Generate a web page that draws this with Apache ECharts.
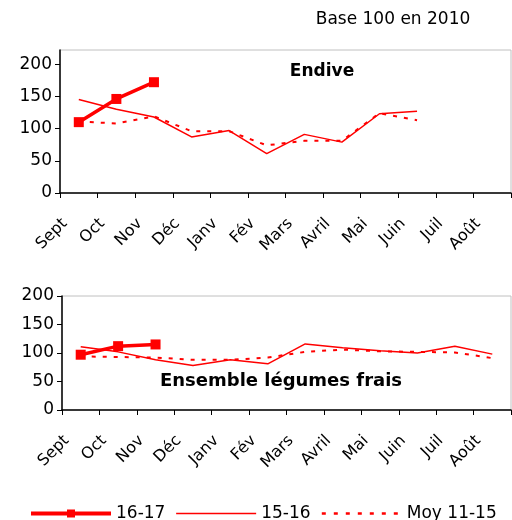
<!DOCTYPE html>
<html>
<head>
<meta charset="utf-8">
<script src="https://cdn.jsdelivr.net/npm/echarts@6/dist/echarts.min.js"></script>
<style>
	html, body { margin: 0; padding: 0; background: #fff; }
	#chart { width: 512px; height: 520px; }
</style>
</head>
<body>
<div id="chart"></div>
<script>
	// mois de la campagne
	var months = ['Sept', 'Oct', 'Nov', 'Déc', 'Janv', 'Fév', 'Mars', 'Avril', 'Mai', 'Juin', 'Juil', 'Août'];
	var yTicks = [0, 50, 100, 150, 200];

	// Endive
	var endive1617 = [110, 146, 172];
	var endive1516 = [145, 130, 118, 87, 97, 61, 91, 79, 123, 127];
	var endiveMoy = [111, 108, 119, 96, 96, 74, 81, 81, 124, 113];

	// Ensemble légumes frais
	var legumes1617 = [97, 112, 115];
	var legumes1516 = [111, 102, 88, 78, 88, 81, 116, 109, 104, 100, 112, 98];
	var legumesMoy = [94, 93, 92, 88, 88, 92, 102, 106, 103, 102, 101, 91];

	var font = 'DejaVu Sans, Verdana, sans-serif';
	var red = '#ff0000';

	function xAxis(idx) {
		return {
			type: 'category',
			gridIndex: idx,
			data: months,
			boundaryGap: true,
			axisLine: { lineStyle: { color: '#000', width: 1.5 } },
			axisTick: { show: true, inside: false, length: 5, interval: 0, lineStyle: { color: '#000' } },
			axisLabel: { rotate: 45, interval: 0, fontSize: 16, color: '#000', fontFamily: font, margin: 14, padding: [0, 20, 0, 0] }
		};
	}
	function yAxis(idx, max) {
		return {
			type: 'value',
			gridIndex: idx,
			min: 0,
			max: max,
			interval: 50,
			splitLine: { show: false },
			axisLine: { show: true, lineStyle: { color: '#000', width: 1.5 } },
			axisTick: { show: true, length: 5, customValues: yTicks, lineStyle: { color: '#000' } },
			axisLabel: { customValues: yTicks, fontSize: 17, color: '#000', fontFamily: font, margin: 8 }
		};
	}
	function line1617(data, idx) {
		return {
			name: '16-17', type: 'line', xAxisIndex: idx, yAxisIndex: idx, data: data,
			symbol: 'rect', symbolSize: 10, z: 5,
			lineStyle: { color: red, width: 3.5 }, itemStyle: { color: red }
		};
	}
	function line1516(data, idx) {
		return {
			name: '15-16', type: 'line', xAxisIndex: idx, yAxisIndex: idx, data: data,
			symbol: 'none', z: 4,
			lineStyle: { color: red, width: 1.5 }, itemStyle: { color: red }
		};
	}
	function lineMoy(data, idx) {
		return {
			name: 'Moy 11-15', type: 'line', xAxisIndex: idx, yAxisIndex: idx, data: data,
			symbol: 'none', z: 3,
			lineStyle: { color: red, width: 2, type: [4, 7] }, itemStyle: { color: red }
		};
	}

	var chart = echarts.init(document.getElementById('chart'));
	chart.setOption({
		animation: false,
		grid: [
			{ left: 60, right: 1, top: 50, height: 143, show: true, borderColor: '#c0c0c0', borderWidth: 1 },
			{ left: 62, right: 1, top: 296, height: 114, show: true, borderColor: '#c0c0c0', borderWidth: 1 }
		],
		xAxis: [xAxis(0), xAxis(1)],
		yAxis: [yAxis(0, 222), yAxis(1, 200)],
		legend: {
			data: [
				{ name: '16-17', lineStyle: { width: 4 } },
				{ name: '15-16', itemStyle: { opacity: 0 }, lineStyle: { width: 1.5 } },
				{ name: 'Moy 11-15', itemStyle: { opacity: 0 }, lineStyle: { width: 2.5, type: [4, 8] } }
			],
			left: 24,
			top: 500,
			itemWidth: 80,
			itemHeight: 10,
			itemGap: 10,
			textStyle: { fontSize: 17, color: '#000', fontFamily: font }
		},
		graphic: [
			{ type: 'text', style: { text: 'Base 100 en 2010', x: 393, y: 20, textAlign: 'center', textVerticalAlign: 'middle', fontSize: 17, fontFamily: font, fill: '#000' } },
			{ type: 'text', style: { text: 'Endive', x: 322, y: 72, textAlign: 'center', textVerticalAlign: 'middle', fontSize: 17, fontWeight: 'bold', fontFamily: font, fill: '#000' } },
			{ type: 'text', style: { text: 'Ensemble légumes frais', x: 281, y: 381, textAlign: 'center', textVerticalAlign: 'middle', fontSize: 18, fontWeight: 'bold', fontFamily: font, fill: '#000' } }
		],
		series: [
			lineMoy(endiveMoy, 0), line1516(endive1516, 0), line1617(endive1617, 0),
			lineMoy(legumesMoy, 1), line1516(legumes1516, 1), line1617(legumes1617, 1)
		]
	});
</script>
</body>
</html>
